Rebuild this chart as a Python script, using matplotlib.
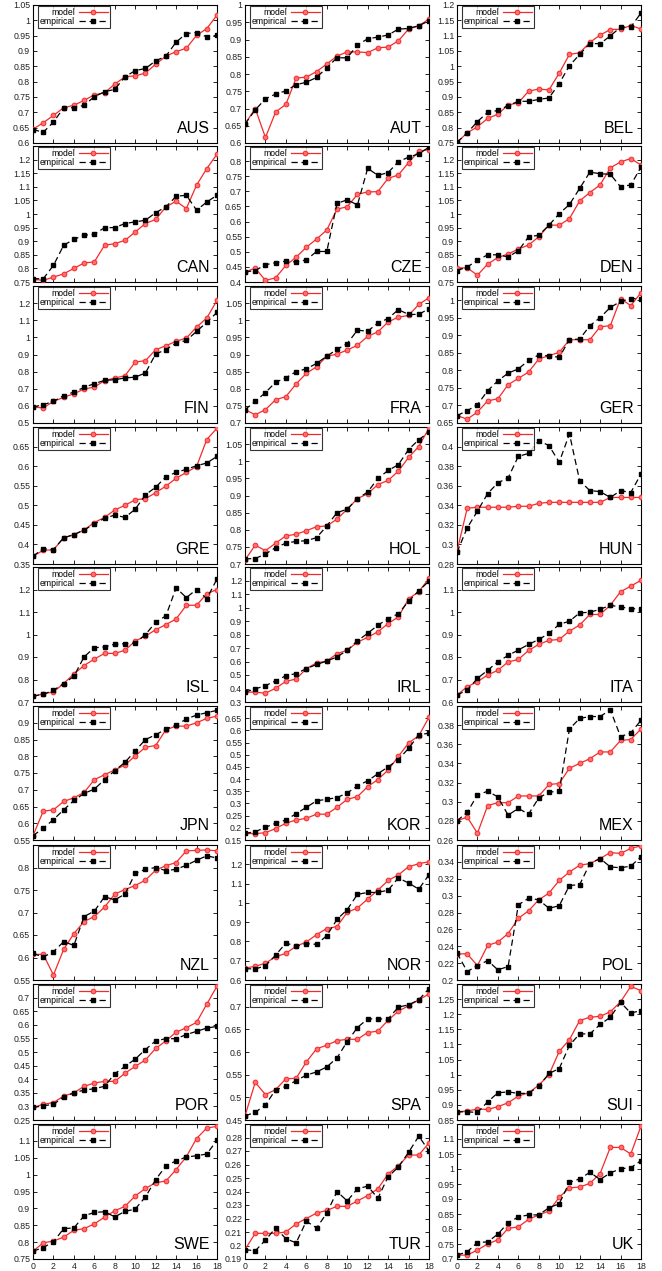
import numpy as np
import matplotlib.pyplot as plt
from matplotlib.ticker import FuncFormatter

plt.rcParams["font.family"] = ["Liberation Sans", "DejaVu Sans"]

STEPS = list(range(19))

AUS_MODEL = [0.645, 0.666, 0.69, 0.715, 0.723, 0.739, 0.757, 0.764, 0.792, 0.816, 0.819, 0.828, 0.857, 0.883, 0.898, 0.909, 0.951, 0.973, 1.017]
AUS_EMP = [0.644, 0.635, 0.668, 0.715, 0.715, 0.723, 0.751, 0.767, 0.775, 0.816, 0.836, 0.843, 0.868, 0.883, 0.929, 0.957, 0.96, 0.946, 0.951]
AUT_MODEL = [0.655, 0.70, 0.616, 0.69, 0.712, 0.788, 0.791, 0.807, 0.829, 0.852, 0.864, 0.864, 0.862, 0.876, 0.878, 0.896, 0.93, 0.94, 0.959]
AUT_EMP = [0.655, 0.696, 0.728, 0.742, 0.751, 0.769, 0.776, 0.79, 0.818, 0.847, 0.847, 0.884, 0.902, 0.907, 0.913, 0.93, 0.932, 0.94, 0.954]
BEL_MODEL = [0.752, 0.783, 0.803, 0.83, 0.844, 0.874, 0.881, 0.919, 0.926, 0.923, 0.978, 1.039, 1.044, 1.078, 1.102, 1.12, 1.121, 1.133, 1.122]
BEL_EMP = [0.752, 0.783, 0.82, 0.85, 0.856, 0.872, 0.886, 0.886, 0.892, 0.897, 0.944, 1.002, 1.039, 1.074, 1.074, 1.099, 1.128, 1.128, 1.174]
CAN_MODEL = [0.76, 0.756, 0.768, 0.78, 0.80, 0.82, 0.824, 0.885, 0.891, 0.903, 0.934, 0.965, 0.98, 1.026, 1.047, 1.02, 1.106, 1.167, 1.22]
CAN_EMP = [0.762, 0.762, 0.811, 0.885, 0.907, 0.922, 0.925, 0.95, 0.95, 0.965, 0.971, 0.977, 1.005, 1.026, 1.065, 1.069, 1.014, 1.044, 1.069]
CZE_MODEL = [0.433, 0.446, 0.405, 0.414, 0.455, 0.482, 0.515, 0.542, 0.572, 0.641, 0.649, 0.69, 0.698, 0.699, 0.743, 0.754, 0.795, 0.833, 0.838]
CZE_EMP = [0.433, 0.438, 0.457, 0.464, 0.469, 0.466, 0.473, 0.501, 0.501, 0.66, 0.672, 0.655, 0.776, 0.753, 0.762, 0.798, 0.813, 0.824, 0.846]
DEN_MODEL = [0.802, 0.802, 0.775, 0.816, 0.84, 0.853, 0.871, 0.886, 0.916, 0.959, 0.959, 0.983, 1.048, 1.079, 1.107, 1.17, 1.191, 1.204, 1.18]
DEN_EMP = [0.792, 0.805, 0.83, 0.85, 0.85, 0.842, 0.865, 0.916, 0.922, 0.959, 1.001, 1.035, 1.094, 1.154, 1.148, 1.146, 1.1, 1.107, 1.172]
FIN_MODEL = [0.593, 0.588, 0.626, 0.65, 0.671, 0.698, 0.71, 0.747, 0.763, 0.776, 0.856, 0.864, 0.928, 0.951, 0.977, 0.996, 1.06, 1.113, 1.216]
FIN_EMP = [0.593, 0.607, 0.626, 0.66, 0.681, 0.708, 0.73, 0.749, 0.753, 0.763, 0.768, 0.792, 0.903, 0.928, 0.967, 0.982, 1.035, 1.088, 1.146]
FRA_MODEL = [0.739, 0.724, 0.739, 0.768, 0.777, 0.814, 0.845, 0.864, 0.895, 0.901, 0.913, 0.927, 0.953, 0.966, 0.995, 1.009, 1.014, 1.046, 1.066]
FRA_EMP = [0.739, 0.763, 0.789, 0.819, 0.832, 0.85, 0.858, 0.874, 0.895, 0.915, 0.932, 0.971, 0.968, 0.992, 1.005, 1.031, 1.017, 1.017, 1.034]
GER_MODEL = [0.671, 0.661, 0.681, 0.713, 0.719, 0.759, 0.777, 0.795, 0.832, 0.842, 0.851, 0.887, 0.887, 0.887, 0.924, 0.927, 1.004, 0.984, 1.021]
GER_EMP = [0.671, 0.685, 0.702, 0.742, 0.77, 0.792, 0.804, 0.828, 0.844, 0.841, 0.837, 0.887, 0.889, 0.927, 0.95, 0.979, 0.996, 1.004, 1.004]
GRE_MODEL = [0.37, 0.385, 0.386, 0.417, 0.425, 0.437, 0.456, 0.469, 0.488, 0.5, 0.514, 0.517, 0.532, 0.549, 0.569, 0.584, 0.599, 0.668, 0.697]
GRE_EMP = [0.37, 0.389, 0.387, 0.417, 0.425, 0.437, 0.452, 0.467, 0.475, 0.469, 0.49, 0.527, 0.546, 0.573, 0.584, 0.592, 0.601, 0.608, 0.625]
HOL_MODEL = [0.712, 0.755, 0.739, 0.761, 0.782, 0.787, 0.797, 0.809, 0.811, 0.831, 0.86, 0.891, 0.905, 0.932, 0.944, 0.971, 1.011, 1.043, 1.097]
HOL_EMP = [0.715, 0.716, 0.729, 0.748, 0.761, 0.766, 0.768, 0.777, 0.811, 0.85, 0.86, 0.891, 0.91, 0.95, 0.973, 0.99, 1.034, 1.063, 1.085]
HUN_MODEL = [0.293, 0.337, 0.338, 0.338, 0.338, 0.338, 0.339, 0.339, 0.342, 0.343, 0.343, 0.343, 0.343, 0.343, 0.343, 0.348, 0.348, 0.348, 0.348]
HUN_EMP = [0.292, 0.317, 0.334, 0.352, 0.363, 0.368, 0.39, 0.393, 0.406, 0.401, 0.384, 0.413, 0.365, 0.355, 0.354, 0.348, 0.355, 0.353, 0.372]
ISL_MODEL = [0.726, 0.736, 0.745, 0.782, 0.825, 0.862, 0.891, 0.916, 0.916, 0.93, 0.971, 0.993, 1.021, 1.044, 1.069, 1.13, 1.13, 1.181, 1.2]
ISL_EMP = [0.726, 0.734, 0.752, 0.782, 0.814, 0.901, 0.941, 0.945, 0.957, 0.959, 0.962, 1.0, 1.054, 1.083, 1.207, 1.164, 1.2, 1.159, 1.247]
IRL_MODEL = [0.373, 0.373, 0.365, 0.402, 0.453, 0.47, 0.547, 0.59, 0.603, 0.658, 0.683, 0.743, 0.779, 0.82, 0.881, 0.93, 1.063, 1.118, 1.215]
IRL_EMP = [0.373, 0.397, 0.421, 0.457, 0.494, 0.511, 0.547, 0.578, 0.603, 0.634, 0.683, 0.753, 0.809, 0.869, 0.917, 0.954, 1.046, 1.123, 1.196]
ITA_MODEL = [0.631, 0.668, 0.69, 0.72, 0.741, 0.778, 0.789, 0.829, 0.856, 0.874, 0.878, 0.915, 0.942, 0.989, 0.989, 1.03, 1.09, 1.115, 1.141]
ITA_EMP = [0.631, 0.653, 0.705, 0.741, 0.779, 0.807, 0.831, 0.856, 0.878, 0.905, 0.945, 0.959, 0.996, 0.999, 1.012, 1.03, 1.022, 1.015, 1.013]
JPN_MODEL = [0.563, 0.636, 0.64, 0.665, 0.676, 0.692, 0.73, 0.745, 0.759, 0.774, 0.801, 0.827, 0.832, 0.879, 0.89, 0.89, 0.9, 0.913, 0.92]
JPN_EMP = [0.563, 0.585, 0.611, 0.64, 0.668, 0.689, 0.702, 0.73, 0.757, 0.782, 0.816, 0.85, 0.864, 0.881, 0.893, 0.911, 0.923, 0.93, 0.937]
KOR_MODEL = [0.177, 0.176, 0.18, 0.197, 0.219, 0.232, 0.239, 0.256, 0.256, 0.284, 0.317, 0.328, 0.369, 0.398, 0.437, 0.493, 0.548, 0.578, 0.654]
KOR_EMP = [0.177, 0.184, 0.202, 0.219, 0.232, 0.258, 0.284, 0.311, 0.317, 0.324, 0.343, 0.372, 0.393, 0.422, 0.45, 0.48, 0.526, 0.581, 0.589]
MEX_MODEL = [0.28, 0.284, 0.267, 0.296, 0.299, 0.299, 0.306, 0.306, 0.306, 0.318, 0.319, 0.335, 0.34, 0.345, 0.352, 0.352, 0.364, 0.365, 0.376]
MEX_EMP = [0.28, 0.289, 0.307, 0.311, 0.305, 0.286, 0.293, 0.287, 0.304, 0.31, 0.311, 0.376, 0.387, 0.389, 0.389, 0.396, 0.368, 0.372, 0.385]
NZL_MODEL = [0.607, 0.607, 0.561, 0.618, 0.653, 0.68, 0.691, 0.712, 0.741, 0.751, 0.76, 0.772, 0.794, 0.804, 0.811, 0.837, 0.838, 0.839, 0.837]
NZL_EMP = [0.609, 0.601, 0.613, 0.635, 0.627, 0.691, 0.703, 0.735, 0.728, 0.741, 0.787, 0.796, 0.8, 0.793, 0.796, 0.805, 0.816, 0.826, 0.821]
NOR_MODEL = [0.662, 0.671, 0.687, 0.721, 0.738, 0.775, 0.797, 0.835, 0.867, 0.877, 0.951, 0.973, 1.02, 1.066, 1.116, 1.145, 1.187, 1.203, 1.213]
NOR_EMP = [0.659, 0.657, 0.674, 0.729, 0.792, 0.775, 0.788, 0.785, 0.83, 0.914, 0.965, 1.044, 1.054, 1.054, 1.066, 1.129, 1.103, 1.071, 1.146]
POL_MODEL = [0.231, 0.231, 0.217, 0.241, 0.245, 0.255, 0.273, 0.282, 0.295, 0.303, 0.318, 0.328, 0.336, 0.338, 0.344, 0.351, 0.35, 0.356, 0.359]
POL_EMP = [0.232, 0.21, 0.217, 0.223, 0.212, 0.216, 0.289, 0.297, 0.295, 0.285, 0.288, 0.312, 0.313, 0.338, 0.344, 0.334, 0.333, 0.335, 0.346]
POR_MODEL = [0.296, 0.308, 0.314, 0.338, 0.35, 0.374, 0.386, 0.392, 0.392, 0.422, 0.447, 0.471, 0.513, 0.541, 0.573, 0.589, 0.609, 0.676, 0.742]
POR_EMP = [0.296, 0.302, 0.308, 0.334, 0.35, 0.36, 0.365, 0.374, 0.42, 0.447, 0.474, 0.509, 0.541, 0.549, 0.549, 0.564, 0.576, 0.588, 0.594]
SPA_MODEL = [0.459, 0.533, 0.506, 0.517, 0.541, 0.542, 0.578, 0.607, 0.615, 0.625, 0.628, 0.628, 0.643, 0.646, 0.67, 0.69, 0.702, 0.715, 0.728]
SPA_EMP = [0.459, 0.467, 0.483, 0.517, 0.524, 0.537, 0.549, 0.556, 0.567, 0.587, 0.623, 0.654, 0.673, 0.673, 0.673, 0.699, 0.704, 0.715, 0.74]
SUI_MODEL = [0.877, 0.88, 0.886, 0.885, 0.894, 0.907, 0.929, 0.94, 0.965, 1.0, 1.077, 1.116, 1.179, 1.19, 1.193, 1.208, 1.241, 1.292, 1.278]
SUI_EMP = [0.877, 0.877, 0.875, 0.91, 0.94, 0.943, 0.938, 0.938, 0.962, 1.004, 1.02, 1.097, 1.135, 1.135, 1.166, 1.19, 1.239, 1.204, 1.212]
SWE_MODEL = [0.773, 0.798, 0.803, 0.815, 0.835, 0.84, 0.854, 0.874, 0.893, 0.906, 0.937, 0.959, 0.976, 0.981, 1.015, 1.053, 1.107, 1.138, 1.143]
SWE_EMP = [0.773, 0.784, 0.801, 0.84, 0.842, 0.878, 0.888, 0.89, 0.875, 0.891, 0.898, 0.934, 0.985, 1.026, 1.041, 1.052, 1.056, 1.061, 1.102]
TUR_MODEL = [0.197, 0.209, 0.209, 0.209, 0.21, 0.216, 0.22, 0.224, 0.226, 0.229, 0.229, 0.233, 0.237, 0.242, 0.253, 0.259, 0.267, 0.267, 0.276]
TUR_EMP = [0.197, 0.196, 0.204, 0.213, 0.205, 0.202, 0.218, 0.213, 0.224, 0.24, 0.233, 0.242, 0.244, 0.235, 0.251, 0.258, 0.269, 0.281, 0.27]
UK_MODEL = [0.713, 0.713, 0.73, 0.75, 0.764, 0.802, 0.807, 0.832, 0.847, 0.86, 0.906, 0.937, 0.94, 0.952, 0.985, 1.072, 1.072, 1.05, 1.143]
UK_EMP = [0.713, 0.724, 0.755, 0.757, 0.783, 0.821, 0.84, 0.847, 0.847, 0.871, 0.884, 0.956, 0.967, 0.989, 0.965, 0.987, 1.001, 1.004, 1.028]

COUNTRIES = ["AUS", "AUT", "BEL", "CAN", "CZE", "DEN", "FIN", "FRA", "GER",
             "GRE", "HOL", "HUN", "ISL", "IRL", "ITA", "JPN", "KOR", "MEX",
             "NZL", "NOR", "POL", "POR", "SPA", "SUI", "SWE", "TUR", "UK"]

MODEL = {c: globals()[f"{c}_MODEL"] for c in COUNTRIES}
EMPIRICAL = {c: globals()[f"{c}_EMP"] for c in COUNTRIES}

# y range (low, high, tick step) for every panel
Y_RANGES = {
    "AUS": (0.6, 1.05, 0.05), "AUT": (0.6, 1.0, 0.05), "BEL": (0.75, 1.2, 0.05),
    "CAN": (0.75, 1.25, 0.05), "CZE": (0.4, 0.85, 0.05), "DEN": (0.75, 1.25, 0.05),
    "FIN": (0.5, 1.3, 0.1), "FRA": (0.7, 1.1, 0.05), "GER": (0.65, 1.04, 0.05),
    "GRE": (0.35, 0.7, 0.05), "HOL": (0.7, 1.1, 0.05), "HUN": (0.28, 0.42, 0.02),
    "ISL": (0.7, 1.3, 0.1), "IRL": (0.3, 1.3, 0.1), "ITA": (0.6, 1.2, 0.1),
    "JPN": (0.55, 0.95, 0.05), "KOR": (0.15, 0.7, 0.05), "MEX": (0.26, 0.4, 0.02),
    "NZL": (0.55, 0.85, 0.05), "NOR": (0.6, 1.3, 0.1), "POL": (0.2, 0.36, 0.02),
    "POR": (0.25, 0.75, 0.05), "SPA": (0.45, 0.75, 0.05), "SUI": (0.85, 1.3, 0.05),
    "SWE": (0.75, 1.15, 0.05), "TUR": (0.19, 0.29, 0.01), "UK": (0.7, 1.15, 0.05),
}

W, H = 662, 1271
COL_LEFT = [33, 245, 457]
COL_W = 184
ROW_BOTTOM = [143, 282, 423, 564, 702, 840, 980, 1120, 1259]
ROW_TOP = [5, 146, 286, 427, 567, 706, 845, 984, 1124]

RED = "#f42a2a"


def draw_panel(ax, name, row, last_row):
    lo, hi, step = Y_RANGES[name]
    ax.plot(STEPS, MODEL[name], color=RED, lw=0.9, marker="o", ms=3.4,
            mfc="#ff7070", mec=RED, mew=0.7, label="model", zorder=3)
    ax.plot(STEPS, EMPIRICAL[name], color="black", lw=0.9, dashes=(5, 3),
            marker="s", ms=3.4, label="empirical", zorder=4)

    ax.set_xlim(0, 18)
    ax.set_ylim(lo, hi)
    ticks = np.round(np.arange(lo, hi + step / 2, step), 4)
    ticks = [t for t in ticks if t <= hi + 1e-9]
    if row > 0 and abs(ticks[-1] - hi) < 1e-9:
        ticks = ticks[:-1]
    ax.set_yticks(ticks)
    ax.yaxis.set_major_formatter(FuncFormatter(lambda v, p: f"{v:g}"))
    ax.set_xticks(range(0, 19, 2))
    ax.tick_params(direction="in", length=3, width=0.6, labelsize=6.3,
                   top=True, right=True, pad=2, labelcolor="#222222")
    if not last_row:
        ax.tick_params(labelbottom=False)
    for sp in ax.spines.values():
        sp.set_linewidth(0.8)

    ax.text(0.96, 0.05, name, transform=ax.transAxes, ha="right", va="bottom",
            fontsize=11.5)
    leg = ax.legend(loc="upper left", bbox_to_anchor=(0.025, 0.995),
                    fontsize=6.2, markerfirst=False, frameon=True, fancybox=False,
                    borderpad=0.25, labelspacing=0.05, handlelength=3.3,
                    handletextpad=0.5, borderaxespad=0.0)
    leg.get_frame().set_edgecolor("black")
    leg.get_frame().set_linewidth(0.8)


def main():
    fig = plt.figure(figsize=(W / 100, H / 100), dpi=100)
    for i, name in enumerate(COUNTRIES):
        row, col = divmod(i, 3)
        left = COL_LEFT[col] / W
        bottom = 1 - ROW_BOTTOM[row] / H
        height = (ROW_BOTTOM[row] - ROW_TOP[row]) / H
        ax = fig.add_axes([left, bottom, COL_W / W, height])
        draw_panel(ax, name, row, row == 8)
    fig.savefig("out.png", dpi=100)
    plt.close(fig)


if __name__ == "__main__":
    main()
